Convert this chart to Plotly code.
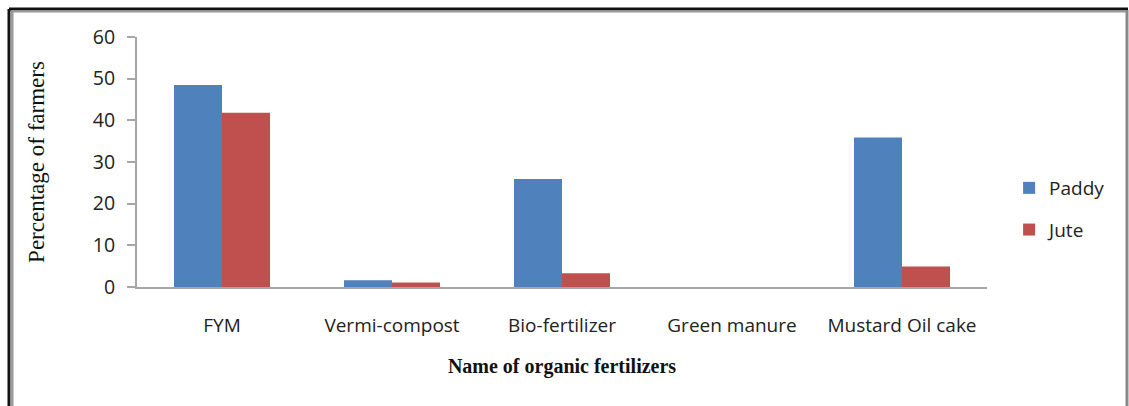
import plotly.graph_objects as go

categories = ["FYM", "Vermi-compost", "Bio-fertilizer", "Green manure", "Mustard Oil cake"]
paddy = [48.5, 1.6, 25.9, 0, 35.9]
jute = [41.8, 1.1, 3.3, 0, 4.9]
y_ticks = [0, 10, 20, 30, 40, 50, 60]

W, H = 1129, 406
ML, MR, MT, MB = 137, 142, 37, 119

fig = go.Figure()
fig.add_trace(go.Bar(name="Paddy", x=categories, y=paddy, legendgroup="paddy",
                     marker=dict(color="#4F81BD", line=dict(width=0))))
fig.add_trace(go.Bar(name="Jute", x=categories, y=jute, legendgroup="jute",
                     marker=dict(color="#C0504D", line=dict(width=0))))

sans = "Open Sans, Noto Sans, sans-serif"
serif = "Liberation Serif, Times New Roman, serif"

pw, ph = W - ML - MR, H - MT - MB


def px(x):
    return (x - ML) / pw


def py(y):
    return (H - MB - y) / ph


fig.update_layout(
    width=W, height=H,
    margin=dict(l=ML, r=MR, t=MT, b=MB, pad=0),
    paper_bgcolor="white", plot_bgcolor="white",
    barmode="group", bargap=0.435, bargroupgap=0,
    showlegend=True,
    legend=dict(
        x=1.026, y=0.312, xanchor="left", yanchor="middle",
        font=dict(family=sans, size=19, color="#222222"),
        tracegroupgap=14, itemsizing="constant", itemwidth=30,
        bgcolor="rgba(0,0,0,0)",
    ),
    xaxis=dict(
        showline=True, linecolor="#A6A6A6", linewidth=2,
        showgrid=False, ticks="", tickfont=dict(family=sans, size=19, color="#222222"),
        ticklabelstandoff=20,
        title=dict(text="<b>Name of organic fertilizers</b>",
                   font=dict(family=serif, size=20, color="#111111"),
                   standoff=22),
    ),
    yaxis=dict(
        range=[0, 60], tickvals=y_ticks,
        showline=True, linecolor="#A6A6A6", linewidth=2,
        showgrid=False, zeroline=False,
        ticks="outside", ticklen=8, tickcolor="#A6A6A6", tickwidth=2,
        tickfont=dict(family=sans, size=19.5, color="#222222"), ticklabelstandoff=8,
        title=dict(text="Percentage of farmers",
                   font=dict(family=serif, size=23, color="#111111"),
                   standoff=42),
    ),
    shapes=[
        # outer frame: dark top/left edge and grey inner edge
        dict(type="line", xref="paper", yref="paper", layer="above",
             x0=px(9), x1=px(1128), y0=py(9), y1=py(9),
             line=dict(color="#111111", width=3)),
        dict(type="line", xref="paper", yref="paper", layer="above",
             x0=px(9), x1=px(9), y0=py(9), y1=py(410),
             line=dict(color="#111111", width=3)),
        dict(type="line", xref="paper", yref="paper", layer="above",
             x0=px(12), x1=px(12), y0=py(11), y1=py(410),
             line=dict(color="#9A9A9A", width=3)),
        dict(type="line", xref="paper", yref="paper", layer="above",
             x0=px(12), x1=px(1126), y0=py(11.5), y1=py(11.5),
             line=dict(color="#9A9A9A", width=2)),
        dict(type="line", xref="paper", yref="paper", layer="above",
             x0=px(1127), x1=px(1127), y0=py(10), y1=py(410),
             line=dict(color="#8A8A8A", width=3)),
    ],
)

fig.write_html("out.html")
